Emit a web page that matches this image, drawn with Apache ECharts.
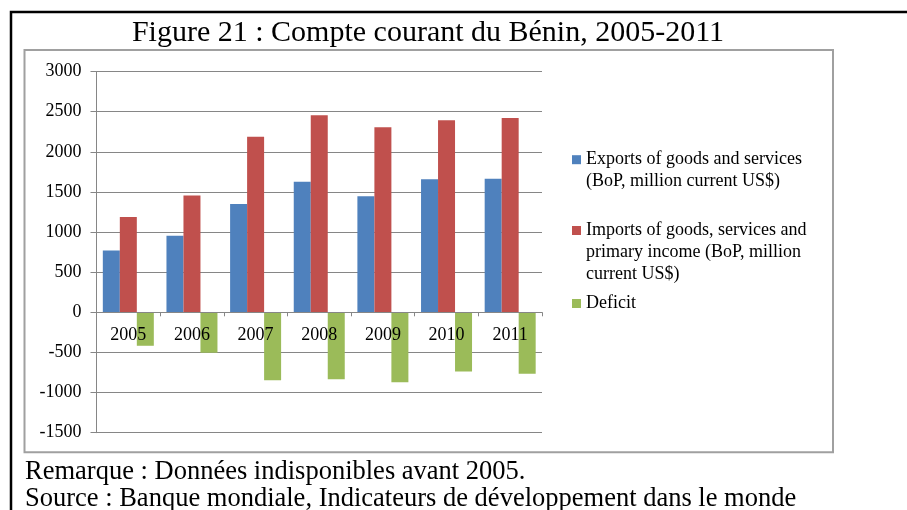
<!DOCTYPE html>
<html><head><meta charset="utf-8">
<script src="https://cdn.jsdelivr.net/npm/echarts@6/dist/echarts.min.js"></script>
<style>html,body{margin:0;padding:0;background:#fff}#c{width:907px;height:510px}</style>
</head><body><div id="c"></div>
<script>
const categories = ['2005', '2006', '2007', '2008', '2009', '2010', '2011'];
const exportsVals = [771, 954, 1350, 1628, 1446, 1657, 1665];
const importsVals = [1188, 1454, 2186, 2455, 2306, 2393, 2420];
const deficitVals = [-417, -504, -846, -833, -871, -738, -767];
const seriesNames = [
  'Exports of goods and services (BoP, million current US$)',
  'Imports of goods, services and primary income (BoP, million current US$)',
  'Deficit'
];
const legendLines = [
  ['Exports of goods and services', '(BoP, million current US$)'],
  ['Imports of goods, services and', 'primary income (BoP, million', 'current US$)'],
  ['Deficit']
];
const titleText = 'Figure 21 : Compte courant du Bénin, 2005-2011';
const noteText = 'Remarque : Données indisponibles avant 2005.';
const sourceText = 'Source : Banque mondiale, Indicateurs de développement dans le monde';
const colors = ['#4F81BD', '#C0504D', '#9BBB59'];
const FONT = '"Liberation Serif", "Times New Roman", serif';
const LH = 22;
const iconCenters = [159.7, 230.5, 303.5];

const chart = echarts.init(document.getElementById('c'));
const legends = legendLines.map((lines, i) => {
  const n = lines.length;
  const H = (2 * n - 1) * LH;
  const blanks = new Array(n - 1).fill(' ');
  return {
    data: [seriesNames[i]],
    left: 572,
    top: iconCenters[i] - H / 2,
    padding: 0,
    icon: 'rect',
    itemWidth: 9,
    itemHeight: 9,
    selectedMode: false,
    formatter: () => blanks.concat(lines).join('\n'),
    textStyle: { fontFamily: FONT, fontSize: 18, color: '#000', lineHeight: LH }
  };
});
const seriesVals = [exportsVals, importsVals, deficitVals];
chart.setOption({
  animation: false,
  color: colors,
  grid: { left: 96.5, right: 365, top: 71.5, bottom: 77.3, containLabel: false },
  legend: legends,
  xAxis: {
    type: 'category',
    data: categories,
    z: 10,
    axisLine: { onZero: true, lineStyle: { color: '#868686', width: 1 } },
    axisTick: { show: true, length: 4, alignWithLabel: false, lineStyle: { color: '#868686' } },
    axisLabel: { fontFamily: FONT, fontSize: 18, color: '#000', margin: -106 }
  },
  yAxis: {
    type: 'value',
    min: -1500, max: 3000, interval: 500,
    axisLine: { show: true, lineStyle: { color: '#868686', width: 1 } },
    axisTick: { show: true, length: 6, lineStyle: { color: '#868686' } },
    axisLabel: { fontFamily: FONT, fontSize: 18, color: '#000', margin: 15, formatter: v => String(v) },
    splitLine: { show: true, lineStyle: { color: '#868686', width: 1 } }
  },
  series: seriesNames.map((name, i) => ({
    name: name,
    type: 'bar',
    data: seriesVals[i],
    barWidth: 17,
    barGap: '0%',
    itemStyle: { color: colors[i] }
  })),
  graphic: [
    { type: 'polyline', silent: true, shape: { points: [[11, 520], [11, 12], [910, 12]] },
      style: { stroke: '#000', lineWidth: 2.5, fill: null } },
    { type: 'rect', silent: true, shape: { x: 24.5, y: 50, width: 808.5, height: 402.3 },
      style: { stroke: '#a0a0a0', lineWidth: 2, fill: null }, z: -1 },
    { type: 'text', silent: true, x: 428, y: 33,
      style: { text: titleText, font: '30px ' + FONT, fill: '#000', align: 'center', verticalAlign: 'middle' } },
    { type: 'text', silent: true, x: 25, y: 472,
      style: { text: noteText, font: '26.5px ' + FONT, fill: '#000', align: 'left', verticalAlign: 'middle' } },
    { type: 'text', silent: true, x: 25, y: 499.5,
      style: { text: sourceText, font: '26.5px ' + FONT, fill: '#000', align: 'left', verticalAlign: 'middle' } }
  ]
});
</script>
</body></html>
